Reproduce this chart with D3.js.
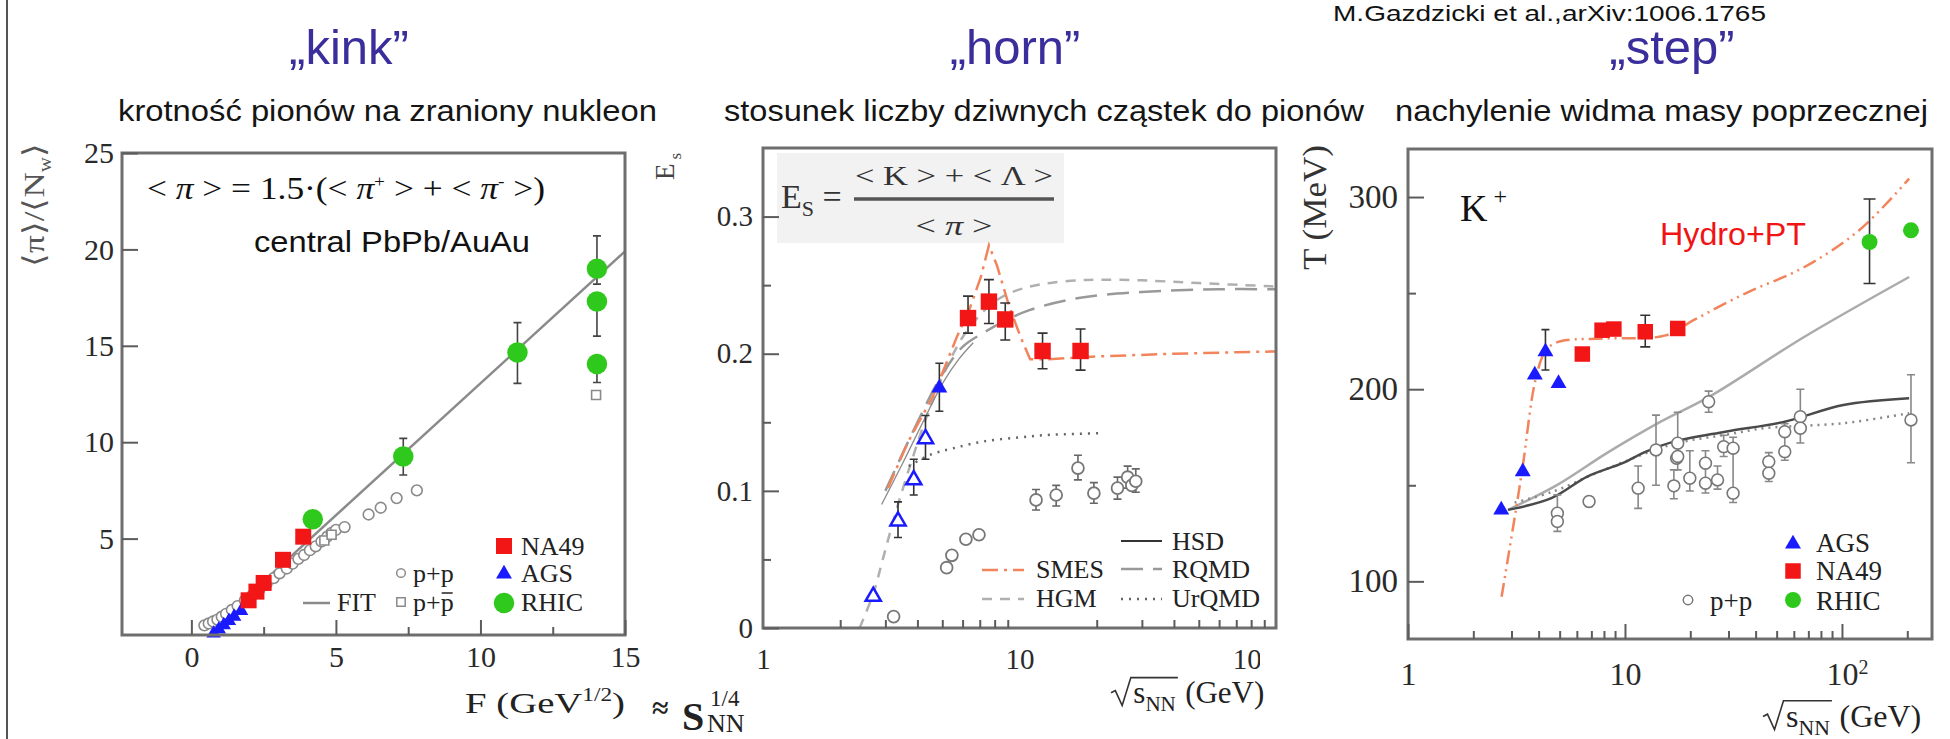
<!DOCTYPE html>
<html>
<head>
<meta charset="utf-8">
<script src="https://cdn.jsdelivr.net/npm/d3@7"></script>
<style>
  body { margin: 0; background: #fff; overflow: hidden; }
  svg { display: block; }
</style>
</head>
<body>
<svg id="chart" width="1950" height="739"></svg>
<script>
const serif = "'Liberation Serif', 'Times New Roman', serif";
const sans = "'Liberation Sans', Arial, sans-serif";

// ---------- "kink": pions per wounded nucleon vs F ----------
const kinkXTicks = [0, 5, 10, 15];
const kinkXMinor = [2.5, 7.5, 12.5];
const kinkYTicks = [5, 10, 15, 20, 25];
const kinkNA49 = [[1.98, 1.8], [2.25, 2.25], [2.5, 2.7], [3.17, 3.9], [3.87, 5.1]];
const kinkAGS = [[0.77, 0.08], [0.95, 0.3], [1.12, 0.52], [1.3, 0.74], [1.48, 0.96], [1.72, 1.25]];
const kinkRHIC = [[4.2, 6.0], [7.33, 9.26], [11.28, 14.65], [14.03, 19.0], [14.03, 17.3], [14.03, 14.05]];
const kinkRHICErr = [[7.33, 8.3, 10.2], [11.28, 13.05, 16.2], [14.03, 18.2, 20.7], [14.03, 15.5, 17.3], [14.03, 13.1, 14.05]];
const kinkPP = [[0.45, 0.5], [0.6, 0.6], [0.75, 0.7], [0.9, 0.8], [1.05, 0.95], [1.2, 1.1], [1.4, 1.3], [1.6, 1.5],
  [1.85, 1.8], [2.1, 2.05], [2.35, 2.35], [2.6, 2.65], [2.85, 2.95], [3.05, 3.2], [3.3, 3.45], [3.5, 3.7],
  [3.7, 3.95], [3.9, 4.15], [4.1, 4.4], [4.3, 4.6], [4.5, 4.85], [4.7, 5.1], [4.85, 5.3], [5.0, 5.45],
  [5.3, 5.6], [6.13, 6.25], [6.55, 6.6], [7.1, 7.1], [7.8, 7.5]];
const kinkPPbar = [[4.6, 4.9], [4.85, 5.2], [14.0, 12.45]];
const kinkFit = [[1.45, 1.35], [15, 19.9]];

// ---------- "horn": strangeness to pion ratio vs sqrt(s_NN) ----------
const hornXTicks = [1, 10, 100];
const hornXMinor = [2, 3, 4, 5, 6, 7, 8, 9, 20, 30, 40, 50, 60, 70, 80, 90];
const hornYTicks = [0, 0.1, 0.2, 0.3];
const hornYMinor = [0.05, 0.15, 0.25];
const hornNA49 = [[6.3, 0.226], [7.6, 0.238], [8.8, 0.225], [12.3, 0.202], [17.3, 0.202]];
const hornNA49Err = [[6.3, 0.215, 0.242], [7.6, 0.222, 0.254], [8.8, 0.21, 0.237], [12.3, 0.189, 0.215], [17.3, 0.188, 0.218]];
const hornAGS = [[4.87, 0.175]];
const hornAGSErr = [[4.87, 0.158, 0.193]];
const hornAGSOpen = [[2.69, 0.023], [3.36, 0.078], [3.87, 0.108], [4.3, 0.138]];
const hornAGSOpenErr = [[3.36, 0.066, 0.092], [3.87, 0.097, 0.123], [4.3, 0.123, 0.155]];
const hornPP = [[3.23, 0.0083], [5.2, 0.044], [5.45, 0.053], [6.18, 0.0647], [6.95, 0.068], [11.6, 0.0934],
  [13.9, 0.097], [16.9, 0.1166], [19.5, 0.0983], [24.1, 0.102], [26.4, 0.110], [27.4, 0.104], [28.4, 0.107]];
const hornPPErr = [[11.6, 0.086, 0.101], [13.9, 0.089, 0.104], [16.9, 0.108, 0.126], [19.5, 0.091, 0.106],
  [24.1, 0.094, 0.110], [26.4, 0.102, 0.118], [28.4, 0.099, 0.116]];
const hornSMES = [[3.07, 0.102], [3.66, 0.135], [4.6, 0.169], [5.72, 0.213], [6.37, 0.232], [7.07, 0.256],
  [7.6, 0.279], [8.18, 0.264], [9.1, 0.235], [10.06, 0.213], [11.0, 0.196], [13, 0.196], [20, 0.198], [40, 0.2], [100, 0.2017]];
const hornHGM = [[2.38, 0], [2.69, 0.025], [2.95, 0.052], [3.3, 0.085], [3.8, 0.122], [4.4, 0.157], [5.2, 0.19],
  [6.0, 0.212], [7.0, 0.228], [8.0, 0.238], [9.2, 0.2443], [11, 0.249], [13.2, 0.2516], [17, 0.2535],
  [21, 0.254], [30, 0.2535], [50, 0.2515], [100, 0.249]];
const hornRQMD = [[3.0, 0.1], [4.0, 0.15], [5.0, 0.185], [6.0, 0.205], [7.2, 0.215], [9, 0.225], [11, 0.232],
  [17, 0.2406], [30, 0.245], [60, 0.247], [100, 0.247]];
const hornHSD = [[2.9, 0.09], [3.5, 0.12], [4.2, 0.15], [5.0, 0.178], [5.8, 0.196], [6.6, 0.208]];
const hornUrQMD = [[3.7, 0.118], [4.49, 0.1263], [5.5, 0.131], [7.24, 0.136], [10, 0.139], [13.2, 0.1409], [20.7, 0.142]];

// ---------- "step": K+ inverse slope T vs sqrt(s_NN) ----------
const stepXTicks = [1, 10, 100];
const stepXMinor = [2, 3, 4, 5, 6, 7, 8, 9, 20, 30, 40, 50, 60, 70, 80, 90, 200];
const stepYTicks = [100, 200, 300];
const stepYMinor = [150, 250];
const stepAGS = [[2.69, 137.2], [3.38, 157.1], [3.84, 207.4], [4.3, 219.5], [4.94, 203]];
const stepAGSErr = [[4.3, 210, 231]];
const stepNA49 = [[6.36, 218.3], [7.84, 230.7], [8.89, 231.3], [12.4, 229.9], [17.5, 231.6]];
const stepNA49Err = [[12.4, 222, 238.5]];
const stepRHIC = [[134, 276.6], [208, 282.7]];
const stepRHICErr = [[134, 255, 299]];
const stepPP = [[4.88, 135.5], [4.88, 131.2], [6.83, 141.6], [11.5, 148.5], [13.9, 168.4], [16.8, 149.7],
  [17.3, 164.1], [17.5, 171.9], [17.5, 165.0], [19.9, 153.7], [23.5, 161.5], [23.5, 151.1], [24.3, 193.5],
  [26.7, 152.8], [28.5, 170.1], [31.5, 169.3], [31.5, 145.9], [46, 162.3], [46, 156.3], [54.5, 177.9],
  [54.5, 167.5], [64.3, 185.7], [64.3, 179.7], [208, 184.0]];
const stepPPErr = [[4.88, 126, 145], [6.83, 139, 144], [11.5, 138, 160], [13.9, 150, 186.5], [16.8, 143, 158],
  [17.5, 158, 188], [19.9, 147, 168], [23.5, 146, 168], [24.3, 188, 199], [26.7, 148, 160], [28.5, 165, 176],
  [31.5, 141, 175], [46, 152, 167], [54.5, 163, 182], [64.3, 172, 200], [208, 161.7, 207.5]];
const stepHydro = [[2.7, 92], [3.14, 137], [3.38, 160], [3.87, 205], [4.3, 220], [4.77, 224], [5.41, 225.6],
  [8.24, 226.4], [15.4, 228], [20.7, 235.9], [35.8, 249.8], [67.2, 263.6], [120, 282.7], [204, 309.6]];
const stepModelLight = [[2.89, 137.2], [4.88, 150.2], [8.24, 166.7], [14.2, 182.3], [24.5, 196.1], [67.2, 227.3], [204, 258.4]];
const stepModelDark = [[2.89, 137.2], [4.58, 143.3], [6.7, 154.5], [9.75, 161.5], [12.5, 167.5], [16.8, 172.7],
  [29, 177.9], [54.5, 183.1], [101.5, 191.8], [204, 195.3]];
const stepModelDot = [[3.1, 141], [4.6, 146.5], [8, 158], [16.8, 171.5], [30, 176.5], [44, 179.7], [101.5, 182.3], [204, 187.5]];

const RED = "#f31616", BLUE = "#1a1aff", GREEN = "#2fc81c", ORANGE = "#f2845c";

const svg = d3.select("#chart");
svg.append("rect").attr("width", 1950).attr("height", 739).attr("fill", "#fff");

// scales
const x1 = d3.scaleLinear().domain([-2.4, 15]).range([122, 625]);
const y1 = d3.scaleLinear().domain([0, 25]).range([635, 153]);
const x2 = d3.scaleLog().domain([1, 100]).range([763, 1276]);
const y2 = d3.scaleLinear().domain([0, 0.35]).range([628, 148]);
const x3 = d3.scaleLog().domain([1, 260]).range([1408, 1932]);
const y3 = d3.scaleLinear().domain([70, 325]).range([639, 149]);

// helpers
function txt(x, y, s, o = {}) {
  const t = svg.append("text").attr("x", x).attr("y", y).text(s)
    .attr("font-size", o.fs || 26).attr("font-family", o.sans ? sans : serif)
    .attr("fill", o.fill || "#222");
  if (o.anchor) t.attr("text-anchor", o.anchor);
  if (o.len) t.attr("textLength", o.len).attr("lengthAdjust", "spacingAndGlyphs");
  if (o.bold) t.attr("font-weight", "bold");
  return t;
}

function frame(x, y) {
  const [l, r] = x.range(), [b, t] = y.range();
  svg.append("rect").attr("x", l).attr("y", t).attr("width", r - l).attr("height", b - t)
    .attr("fill", "none").attr("stroke", "#6e6e6e").attr("stroke-width", 3);
}

function styleAxis(g, fs) {
  g.attr("font-family", serif).attr("font-size", fs).attr("color", "#5c5c5c");
  g.select(".domain").remove();
  g.selectAll("line").attr("stroke-width", 2);
  g.selectAll("text").attr("fill", "#2a2a2a");
  return g;
}

function axes(x, y, o) {
  const bottom = y.range()[0], left = x.range()[0];
  const gx = svg.append("g").attr("transform", `translate(0,${bottom})`)
    .call(d3.axisBottom(x).tickValues(o.xt).tickSize(-15).tickPadding(o.xpad).tickFormat(o.xf));
  styleAxis(gx, o.fs);
  if (o.xm) styleAxis(svg.append("g").attr("transform", `translate(0,${bottom})`)
    .call(d3.axisBottom(x).tickValues(o.xm).tickSize(-8).tickFormat("")), o.fs);
  const gy = svg.append("g").attr("transform", `translate(${left},0)`)
    .call(d3.axisLeft(y).tickValues(o.yt).tickSize(-16).tickPadding(o.ypad).tickFormat(o.yf));
  styleAxis(gy, o.fs);
  if (o.ym) styleAxis(svg.append("g").attr("transform", `translate(${left},0)`)
    .call(d3.axisLeft(y).tickValues(o.ym).tickSize(-8).tickFormat("")), o.fs);
  return gx;
}

function markers(data, x, y, o) {
  const sym = d3.symbol().type(o.type).size(o.size);
  svg.append("g").selectAll("path").data(data).join("path")
    .attr("transform", d => `translate(${x(d[0])},${y(d[1])})`)
    .attr("d", sym)
    .attr("fill", o.fill || "none")
    .attr("stroke", o.stroke || "none")
    .attr("stroke-width", o.sw || 0);
}

function errBars(data, x, y, color, cap) {
  svg.append("g").attr("stroke", color).attr("stroke-width", 1.6).attr("fill", "none")
    .selectAll("path").data(data).join("path")
    .attr("d", d => {
      const px = x(d[0]), a = y(d[1]), b = y(d[2]);
      return `M${px},${a}V${b}M${px - cap},${a}H${px + cap}M${px - cap},${b}H${px + cap}`;
    });
}

function curve(data, x, y, o) {
  const line = d3.line().x(d => x(d[0])).y(d => y(d[1])).curve(o.curve || d3.curveLinear);
  svg.append("path").datum(data).attr("d", line)
    .attr("fill", "none").attr("stroke", o.stroke).attr("stroke-width", o.sw || 2.5)
    .attr("stroke-dasharray", o.dash || null);
}

function legendLine(x0, x1p, yy, o) {
  svg.append("line").attr("x1", x0).attr("x2", x1p).attr("y1", yy).attr("y2", yy)
    .attr("stroke", o.stroke).attr("stroke-width", o.sw || 2.5).attr("stroke-dasharray", o.dash || null);
}

function legendMark(px, py, o) {
  svg.append("path").attr("transform", `translate(${px},${py})`)
    .attr("d", d3.symbol().type(o.type).size(o.size))
    .attr("fill", o.fill || "none").attr("stroke", o.stroke || "none").attr("stroke-width", o.sw || 0);
}

function sqrtLabel(x0, base, fs) {
  const sx = x0 + fs * 0.72;
  const t = svg.append("text").attr("x", sx).attr("y", base).attr("font-size", fs)
    .attr("font-family", serif).attr("fill", "#222");
  t.append("tspan").text("s");
  t.append("tspan").attr("dy", fs * 0.25).attr("font-size", fs * 0.68).text("NN");
  const w = t.node().getComputedTextLength();
  svg.append("path")
    .attr("d", `M${x0},${base - fs * 0.33}L${x0 + fs * 0.14},${base - fs * 0.4}L${x0 + fs * 0.36},${base + fs * 0.08}` +
      `L${x0 + fs * 0.64},${base - fs * 0.82}H${sx + w + 2}`)
    .attr("fill", "none").attr("stroke", "#333").attr("stroke-width", 1.6);
  txt(sx + w + fs * 0.3, base, "(GeV)", { fs });
}

// left border line of the slide
svg.append("line").attr("x1", 7).attr("x2", 7).attr("y1", 0).attr("y2", 739)
  .attr("stroke", "#555").attr("stroke-width", 2);

// headings
txt(1333, 21, "M.Gazdzicki et al.,arXiv:1006.1765", { sans: true, fs: 22, len: 433, fill: "#111" });
txt(349, 64, "\u201Ekink\u201D", { sans: true, fs: 49, anchor: "middle", fill: "#3a2d9c" });
txt(1015, 64, "\u201Ehorn\u201D", { sans: true, fs: 49, anchor: "middle", fill: "#3a2d9c" });
txt(1672, 64, "\u201Estep\u201D", { sans: true, fs: 49, anchor: "middle", fill: "#3a2d9c" });
txt(118, 121, "krotność pionów na zraniony nukleon", { sans: true, fs: 29, len: 539, fill: "#151515" });
txt(724, 121, "stosunek liczby dziwnych cząstek do pionów", { sans: true, fs: 29, len: 640, fill: "#151515" });
txt(1395, 121, "nachylenie widma masy poprzecznej", { sans: true, fs: 29, len: 533, fill: "#151515" });

// =================== panel 1: kink ===================
curve(kinkFit, x1, y1, { stroke: "#8a8a8a", sw: 2.5 });
markers(kinkPP, x1, y1, { type: d3.symbolCircle, size: 90, stroke: "#8a8a8a", sw: 1.6, fill: "#fff" });
markers(kinkPPbar, x1, y1, { type: d3.symbolSquare, size: 80, stroke: "#8a8a8a", sw: 1.6, fill: "#fff" });
errBars(kinkRHICErr, x1, y1, "#444", 4);
markers(kinkAGS, x1, y1, { type: d3.symbolTriangle, size: 90, fill: BLUE });
markers(kinkNA49, x1, y1, { type: d3.symbolSquare, size: 256, fill: RED });
markers(kinkRHIC, x1, y1, { type: d3.symbolCircle, size: 330, fill: GREEN });
frame(x1, y1);
axes(x1, y1, { xt: kinkXTicks, xm: kinkXMinor, yt: kinkYTicks, fs: 30, xpad: 11, ypad: 8,
  xf: d3.format("d"), yf: d3.format("d") });

// formula and label
{
  const t = svg.append("text").attr("x", 147).attr("y", 199).attr("font-size", 31)
    .attr("font-family", serif).attr("fill", "#111")
    .attr("textLength", 398).attr("lengthAdjust", "spacingAndGlyphs");
  t.append("tspan").text("< ");
  t.append("tspan").attr("font-style", "italic").text("\u03C0");
  t.append("tspan").text(" > = 1.5\u00B7(< ");
  t.append("tspan").attr("font-style", "italic").text("\u03C0");
  t.append("tspan").attr("dy", -12).attr("font-size", 17).text("+");
  t.append("tspan").attr("dy", 12).text(" > + < ");
  t.append("tspan").attr("font-style", "italic").text("\u03C0");
  t.append("tspan").attr("dy", -12).attr("font-size", 17).text("-");
  t.append("tspan").attr("dy", 12).text(" >)");
}
txt(254, 252, "central PbPb/AuAu", { sans: true, fs: 29, len: 276, fill: "#111" });

// y label
{
  const t = svg.append("text").attr("transform", "translate(44,267) rotate(-90)")
    .attr("font-size", 30).attr("font-family", serif).attr("fill", "#555")
    .attr("textLength", 124).attr("lengthAdjust", "spacingAndGlyphs");
  t.append("tspan").text("\u27E8\u03C0\u27E9/\u27E8N");
  t.append("tspan").attr("dy", 7).attr("font-size", 18).text("w");
  t.append("tspan").attr("dy", -7).text("\u27E9");
}
// x label
{
  const t = svg.append("text").attr("x", 465).attr("y", 713).attr("font-size", 30)
    .attr("font-family", serif).attr("fill", "#222")
    .attr("textLength", 160).attr("lengthAdjust", "spacingAndGlyphs");
  t.append("tspan").text("F (GeV");
  t.append("tspan").attr("dy", -12).attr("font-size", 18).text("1/2");
  t.append("tspan").attr("dy", 12).text(")");
}
txt(652, 718, "\u2248", { fs: 30, bold: true, fill: "#222" });
txt(682, 730, "S", { fs: 40, bold: true, fill: "#222" });
txt(710, 706, "1/4", { fs: 23, fill: "#222" });
txt(707, 732, "NN", { fs: 26, fill: "#222" });

// legend
legendMark(504, 546, { type: d3.symbolSquare, size: 256, fill: RED });
txt(521, 555, "NA49", { fs: 26 });
legendMark(504, 574, { type: d3.symbolTriangle, size: 110, fill: BLUE });
txt(521, 582, "AGS", { fs: 26 });
legendMark(504, 603, { type: d3.symbolCircle, size: 330, fill: GREEN });
txt(521, 611, "RHIC", { fs: 26 });
legendMark(401, 573, { type: d3.symbolCircle, size: 60, stroke: "#8a8a8a", sw: 1.5, fill: "#fff" });
txt(413, 582, "p+p", { fs: 26 });
legendMark(401, 602, { type: d3.symbolSquare, size: 70, stroke: "#8a8a8a", sw: 1.5, fill: "#fff" });
{
  const t = txt(413, 611, "p+p", { fs: 26 });
  const n = t.node();
  const a = n.getStartPositionOfChar(2).x, b = n.getEndPositionOfChar(2).x;
  svg.append("line").attr("x1", a + 1).attr("x2", b - 1).attr("y1", 593).attr("y2", 593)
    .attr("stroke", "#222").attr("stroke-width", 1.5);
}
legendLine(303, 330, 603, { stroke: "#8a8a8a" });
txt(337, 611, "FIT", { fs: 26 });

// =================== panel 2: horn ===================
svg.append("rect").attr("x", 777).attr("y", 153).attr("width", 287).attr("height", 90).attr("fill", "#f2f2f2");
curve(hornHGM, x2, y2, { stroke: "#b0b0b0", dash: "10,8", curve: d3.curveCatmullRom });
curve(hornRQMD, x2, y2, { stroke: "#999", dash: "22,10", curve: d3.curveCatmullRom });
curve(hornHSD, x2, y2, { stroke: "#8a8a8a", sw: 1.3, curve: d3.curveCatmullRom });
curve(hornUrQMD, x2, y2, { stroke: "#666", dash: "2,6", curve: d3.curveCatmullRom });
curve(hornSMES, x2, y2, { stroke: ORANGE, dash: "16,6,3,6" });
errBars(hornPPErr, x2, y2, "#666", 4);
errBars(hornNA49Err, x2, y2, "#333", 5);
errBars(hornAGSErr, x2, y2, "#333", 4);
errBars(hornAGSOpenErr, x2, y2, "#333", 4);
markers(hornPP, x2, y2, { type: d3.symbolCircle, size: 110, stroke: "#777", sw: 1.8, fill: "#fff" });
markers(hornAGSOpen, x2, y2, { type: d3.symbolTriangle, size: 100, stroke: BLUE, sw: 2.5, fill: "#fff" });
markers(hornAGS, x2, y2, { type: d3.symbolTriangle, size: 110, fill: BLUE });
markers(hornNA49, x2, y2, { type: d3.symbolSquare, size: 270, fill: RED });
frame(x2, y2);
{
  svg.append("clipPath").attr("id", "clip2").append("rect")
    .attr("x", 640).attr("y", 0).attr("width", 620).attr("height", 739);
  const gx = axes(x2, y2, { xt: hornXTicks, xm: hornXMinor, yt: hornYTicks, ym: hornYMinor, fs: 29,
    xpad: 20, ypad: 10, xf: d3.format("d"), yf: d => d === 0 ? "0" : d.toFixed(1) });
  gx.selectAll("text").filter(d => d === 100).attr("x", -22);
  gx.attr("clip-path", "url(#clip2)");
}
// formula
{
  const t = svg.append("text").attr("x", 781).attr("y", 208).attr("font-size", 34)
    .attr("font-family", serif).attr("fill", "#333");
  t.append("tspan").text("E");
  t.append("tspan").attr("dy", 8).attr("font-size", 22).text("S");
  t.append("tspan").attr("dy", -8).text(" =");
  txt(954, 185, "< K > + < \u039B >", { fs: 28, anchor: "middle", len: 198, fill: "#333" });
  svg.append("line").attr("x1", 854).attr("x2", 1054).attr("y1", 199).attr("y2", 199)
    .attr("stroke", "#555").attr("stroke-width", 3.5);
  const d = svg.append("text").attr("x", 954).attr("y", 235).attr("font-size", 28)
    .attr("font-family", serif).attr("fill", "#333").attr("text-anchor", "middle")
    .attr("textLength", 77).attr("lengthAdjust", "spacingAndGlyphs");
  d.append("tspan").text("< ");
  d.append("tspan").attr("font-style", "italic").text("\u03C0");
  d.append("tspan").text(" >");
}
// y label
{
  const t = svg.append("text").attr("transform", "translate(674,180) rotate(-90)")
    .attr("font-size", 27).attr("font-family", serif).attr("fill", "#444");
  t.append("tspan").text("E");
  t.append("tspan").attr("dy", 7).attr("dx", 4).attr("font-size", 17).text("s");
}
sqrtLabel(1111, 703, 31);
// legend
legendLine(1121, 1162, 541, { stroke: "#333", sw: 2 });
txt(1172, 550, "HSD", { fs: 26 });
legendLine(1121, 1162, 569, { stroke: "#999", dash: "22,10" });
txt(1172, 578, "RQMD", { fs: 26 });
legendLine(1121, 1162, 599, { stroke: "#666", dash: "2,6" });
txt(1172, 607, "UrQMD", { fs: 26 });
legendLine(982, 1024, 570, { stroke: ORANGE, dash: "16,6,3,6" });
txt(1036, 578, "SMES", { fs: 26 });
legendLine(982, 1024, 599, { stroke: "#b0b0b0", dash: "10,8" });
txt(1036, 607, "HGM", { fs: 26 });

// =================== panel 3: step ===================
curve(stepModelLight, x3, y3, { stroke: "#ababab", sw: 2.5, curve: d3.curveCatmullRom });
curve(stepModelDot, x3, y3, { stroke: "#888", dash: "2,5", curve: d3.curveCatmullRom });
curve(stepModelDark, x3, y3, { stroke: "#4a4a4a", sw: 2.5, curve: d3.curveCatmullRom });
curve(stepHydro, x3, y3, { stroke: ORANGE, dash: "14,5,2,5,2,5", curve: d3.curveCatmullRom });
errBars(stepPPErr, x3, y3, "#888", 4);
errBars(stepAGSErr, x3, y3, "#333", 4);
errBars(stepNA49Err, x3, y3, "#333", 5);
errBars(stepRHICErr, x3, y3, "#333", 6);
markers(stepPP, x3, y3, { type: d3.symbolCircle, size: 110, stroke: "#777", sw: 1.6, fill: "#fff" });
markers(stepAGS, x3, y3, { type: d3.symbolTriangle, size: 110, fill: BLUE });
markers(stepNA49, x3, y3, { type: d3.symbolSquare, size: 240, fill: RED });
markers(stepRHIC, x3, y3, { type: d3.symbolCircle, size: 200, fill: GREEN });
frame(x3, y3);
{
  const gx = axes(x3, y3, { xt: stepXTicks, xm: stepXMinor, yt: stepYTicks, ym: stepYMinor, fs: 33,
    xpad: 23, ypad: 10, xf: d3.format("d"), yf: d3.format("d") });
  gx.selectAll("text").attr("font-size", 32).each(function (d) {
    if (d === 100) {
      const t = d3.select(this).text("10").attr("text-anchor", "start").attr("x", -16);
      t.append("tspan").attr("dy", "-0.55em").attr("font-size", 20).text("2");
    }
  });
}
txt(1460, 221, "K", { fs: 38, fill: "#111" })
  .append("tspan").attr("dx", 6).attr("dy", -17).attr("font-size", 24).text("+");
txt(1660, 245, "Hydro+PT", { sans: true, fs: 31, len: 146, fill: "#f01414" });
svg.append("text").attr("transform", "translate(1326,270) rotate(-90)")
  .attr("font-size", 33).attr("font-family", serif).attr("fill", "#333")
  .attr("textLength", 125).attr("lengthAdjust", "spacingAndGlyphs").text("T (MeV)");
sqrtLabel(1763, 727, 32);
// legend
legendMark(1793, 544, { type: d3.symbolTriangle, size: 110, fill: BLUE });
txt(1816, 552, "AGS", { fs: 27 });
legendMark(1793, 571, { type: d3.symbolSquare, size: 240, fill: RED });
txt(1816, 580, "NA49", { fs: 27 });
legendMark(1793, 600, { type: d3.symbolCircle, size: 200, fill: GREEN });
txt(1816, 610, "RHIC", { fs: 27 });
legendMark(1688, 600, { type: d3.symbolCircle, size: 70, stroke: "#777", sw: 1.5, fill: "#fff" });
txt(1710, 610, "p+p", { fs: 27 });
</script>
</body>
</html>
